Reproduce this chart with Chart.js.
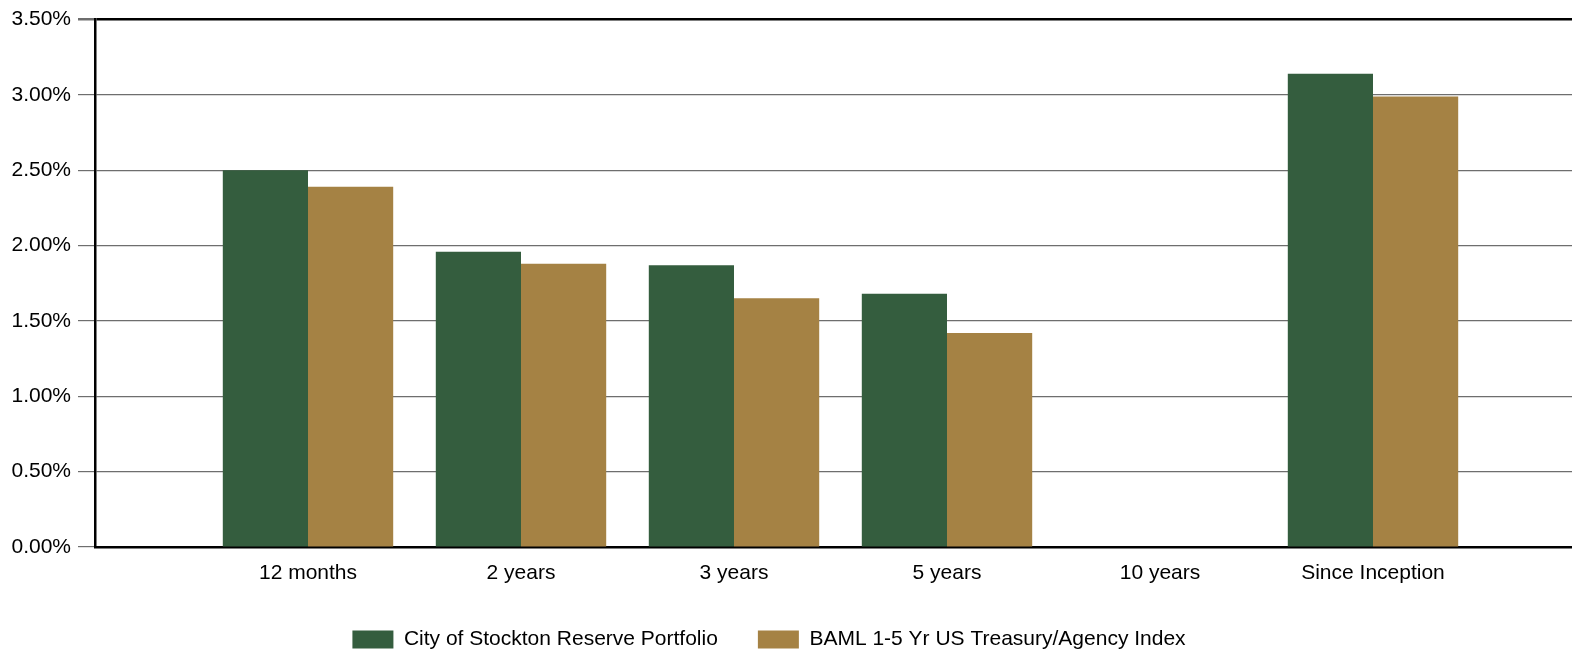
<!DOCTYPE html>
<html>
<head>
<meta charset="utf-8">
<script src="https://cdn.jsdelivr.net/npm/chart.js@4/dist/chart.umd.min.js"></script>
<style>
  html, body { margin: 0; padding: 0; background: #fff; overflow: hidden; width: 1587px; height: 649px; }
  #wrap { position: relative; width: 1587px; height: 649px; }
  canvas { display: block; }
</style>
</head>
<body>
<div id="wrap"><canvas id="c"></canvas></div>
<script>
const categories = ["", "12 months", "2 years", "3 years", "5 years", "10 years", "Since Inception", ""];
const portfolioValues = [null, 2.50, 1.96, 1.87, 1.68, null, 3.14, null];
const indexValues = [null, 2.39, 1.88, 1.65, 1.42, null, 2.99, null];
const seriesNames = ["City of Stockton Reserve Portfolio", "BAML 1-5 Yr US Treasury/Agency Index"];
const yTicks = [0, 0.5, 1.0, 1.5, 2.0, 2.5, 3.0, 3.5];

const FONT = "'Liberation Sans', Arial, sans-serif";
const FS = 21;
const LEGEND_CENTER = 769;

const legendShift = {
  id: 'legendShift',
  afterLayout(chart) {
    const lg = chart.legend;
    if (lg) {
      const d = (lg.left + lg.right) / 2 - LEGEND_CENTER;
      lg.left -= d; lg.right -= d;
    }
  }
};

new Chart(document.getElementById('c'), {
  type: 'bar',
  data: {
    labels: categories,
    datasets: [
      { label: seriesNames[0], data: portfolioValues, backgroundColor: '#345D3E' },
      { label: seriesNames[1], data: indexValues, backgroundColor: '#A58244' }
    ]
  },
  options: {
    responsive: true,
    maintainAspectRatio: false,
    animation: false,
    devicePixelRatio: 1,
    datasets: { bar: { categoryPercentage: 0.8, barPercentage: 1.0 } },
    layout: { autoPadding: false, padding: { top: 17, left: 0, right: 1, bottom: 0 } },
    plugins: {
      tooltip: { enabled: false },
      legend: {
        position: 'bottom',
        maxHeight: 60,
        labels: {
          boxWidth: 41, boxHeight: 18, padding: 40,
          color: '#000', font: { family: FONT, size: FS }
        }
      }
    },
    scales: {
      x: {
        offset: false,
        afterFit(scale) { scale.height = 42; scale.paddingLeft = 0; scale.paddingRight = 0; },
        grid: { display: false },
        border: { display: true, color: '#000', width: 2.5 },
        ticks: { color: '#000', font: { family: FONT, size: FS }, padding: 6, autoSkip: false, maxRotation: 0 }
      },
      y: {
        min: 0, max: 3.5,
        afterBuildTicks(scale) { scale.ticks = yTicks.map(v => ({ value: v })); },
        afterFit(scale) { scale.width = 95; },
        grid: {
          color: ctx => (ctx.tick && ctx.tick.value === 3.5) ? '#000' : '#6e6e6e',
          lineWidth: ctx => (ctx.tick && ctx.tick.value === 3.5) ? 2.5 : 1.2,
          tickLength: 17,
          tickColor: '#6e6e6e'
        },
        border: { display: true, color: '#000', width: 2.5 },
        ticks: {
          color: '#000', padding: 7,
          font: { family: FONT, size: FS },
          callback: v => v.toFixed(2) + '%'
        }
      }
    }
  },
  plugins: [legendShift]
});
</script>
</body>
</html>
